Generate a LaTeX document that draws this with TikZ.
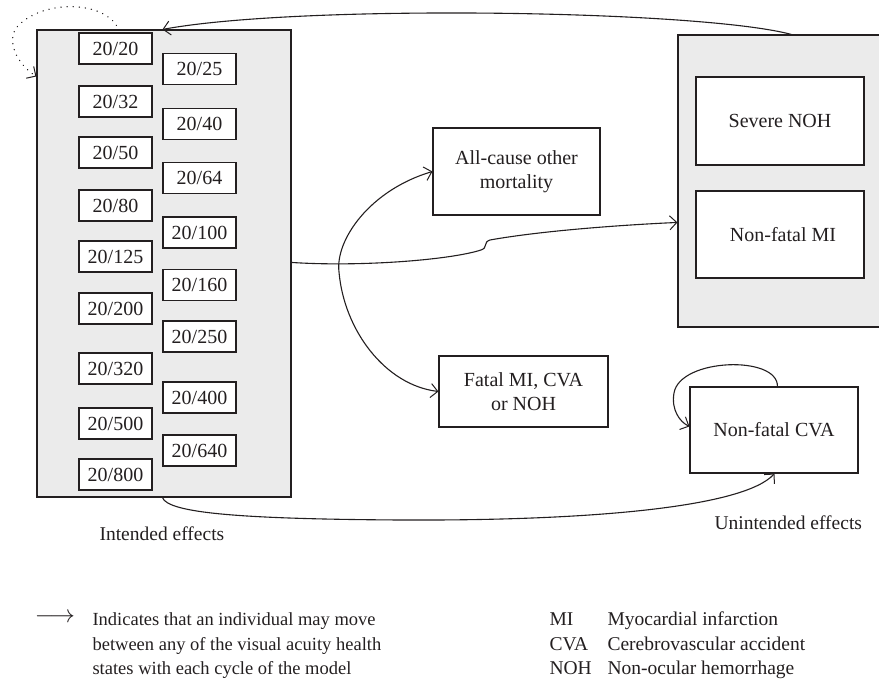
\documentclass[tikz,border=0pt]{standalone}
\usepackage{fontspec}
\setmainfont{Liberation Serif}
\usetikzlibrary{calc,arrows.meta}
\definecolor{ink}{HTML}{231F20}
\definecolor{panel}{HTML}{EBEBEB}
\begin{document}
\begin{tikzpicture}[x=1pt,y=-1pt, line width=1.1pt, color=ink,
  font=\fontsize{19.5}{24}\selectfont,
  panelbox/.style={draw, fill=panel, inner sep=0pt},
  va/.style={draw, fill=white, minimum width=73pt, minimum height=31pt, inner sep=0pt, font=\fontsize{20}{24}\selectfont},
  statebox/.style={draw, fill=white, inner sep=0pt, align=center, font=\fontsize{20}{24}\selectfont},
  conn/.style={-{Straight Barb[length=7pt,width=14pt,line width=1pt]}, line width=1.1pt},
  lbl/.style={inner sep=0pt, anchor=base west}]
\useasboundingbox (0,0) rectangle (879,684);
% panels
\node[panelbox, minimum width=254pt, minimum height=467pt] (lg) at (164,263.5) {};
\node[panelbox, minimum width=203pt, minimum height=292pt] (rg) at (779.5,181) {};
% visual acuity states
\foreach \a/\b/\y [count=\i] in {20/20/48.5, 20/32/101.5, 20/50/152.5, 20/80/205.5, 20/125/256.5, 20/200/308.5, 20/320/368.5, 20/500/423.5, 20/800/474.5}
  \node[va] (L\i) at (115.5,\y) {\a/\b};
\foreach \a/\b/\y [count=\i] in {20/25/69, 20/40/124, 20/64/178, 20/100/232.5, 20/160/285, 20/250/336.5, 20/400/397.5, 20/640/450.5}
  \node[va] (R\i) at (199.5,\y) {\a/\b};
% other states
\node[statebox, minimum width=168pt, minimum height=88pt] (noh) at (780,121) {Severe NOH};
\node[statebox, minimum width=168pt, minimum height=87pt] (nmi) at (780,234.5) {\hspace*{6pt}Non-fatal MI};
\node[statebox, minimum width=167pt, minimum height=87pt] (acm) at (516.5,171.5) {All-cause other\\mortality};
\node[statebox, minimum width=169pt, minimum height=71pt] (fat) at (523.5,391.5) {Fatal MI, CVA\\or NOH};
\node[statebox, minimum width=168pt, minimum height=86pt] (cva) at (774,430) {Non-fatal CVA};
% labels
\node[lbl] (ie) at (99,540) {Intended effects};
\node[lbl] (ue) at (714,530) {Unintended effects};
% connector points
\coordinate (lgR) at ($(lg.north east)+(0,233)$);
\coordinate (rgW) at ($(rg.north west)+(0,188)$);
\coordinate (lgB) at ($(lg.south west)+(126,0)$);
\coordinate (cvaB) at ($(cva.south west)+(85,0)$);
\coordinate (cvaT) at ($(cva.north west)+(88,0)$);
\coordinate (cvaW) at ($(cva.north west)+(0,40)$);
\coordinate (rgT) at ($(rg.north west)+(114,0)$);
\coordinate (lgT) at ($(lg.north west)+(126,0)$);
\coordinate (lgT2) at ($(lg.north west)+(80,-4)$);
\coordinate (lgW) at ($(lg.north west)+(0,47)$);
% connectors
\draw[conn] (rgT) .. controls (700,10) and (300,4) .. (lgT);
\draw[conn, dash pattern=on 0.1pt off 6pt, line cap=round, line width=1.4pt] (lgT2) .. controls (100,0) and (40,0) .. (16,28) .. controls (6,45) and (20,66) .. (lgW);
\draw[conn] (lgR) .. controls (360,267) and (450,260) .. (481,250) .. controls (488,248) and (483,242) .. (490,240) .. controls (540,231) and (620,225) .. (rgW);
\draw[{Straight Barb[length=7pt,width=14pt,line width=1pt]}-{Straight Barb[length=7pt,width=14pt,line width=1pt]}] (acm.west) .. controls (370,190) and (335,240) .. (339,272) .. controls (344,330) and (385,385) .. (fat.west);
\draw[conn] (cvaT) .. controls (778,355) and (680,358) .. (674,393) .. controls (671,410) and (680,422) .. (cvaW);
\draw[conn] (lgB) .. controls (168,513) and (240,519) .. (400,520) .. controls (600,521) and (745,506) .. (cvaB);
% legend
\node[inner sep=0pt, font=\fontsize{25}{24}\selectfont] (la) at (55,618) {$\longrightarrow$};
\node[lbl, font=\fontsize{18.5}{24}\selectfont] (t1) at (92,626) {Indicates that an individual may move};
\node[lbl, font=\fontsize{18.5}{24}\selectfont] (t2) at (92,650) {between any of the visual acuity health};
\node[lbl, font=\fontsize{18.5}{24}\selectfont] (t3) at (92,674) {states with each cycle of the model};
\node[lbl] (a1) at (549,626) {MI};
\node[lbl] (a2) at (549,650) {CVA};
\node[lbl] (a3) at (549,674) {NOH};
\node[lbl] (d1) at (607,626) {Myocardial infarction};
\node[lbl] (d2) at (607,650) {Cerebrovascular accident};
\node[lbl] (d3) at (607,674) {Non-ocular hemorrhage};
\end{tikzpicture}
\end{document}
